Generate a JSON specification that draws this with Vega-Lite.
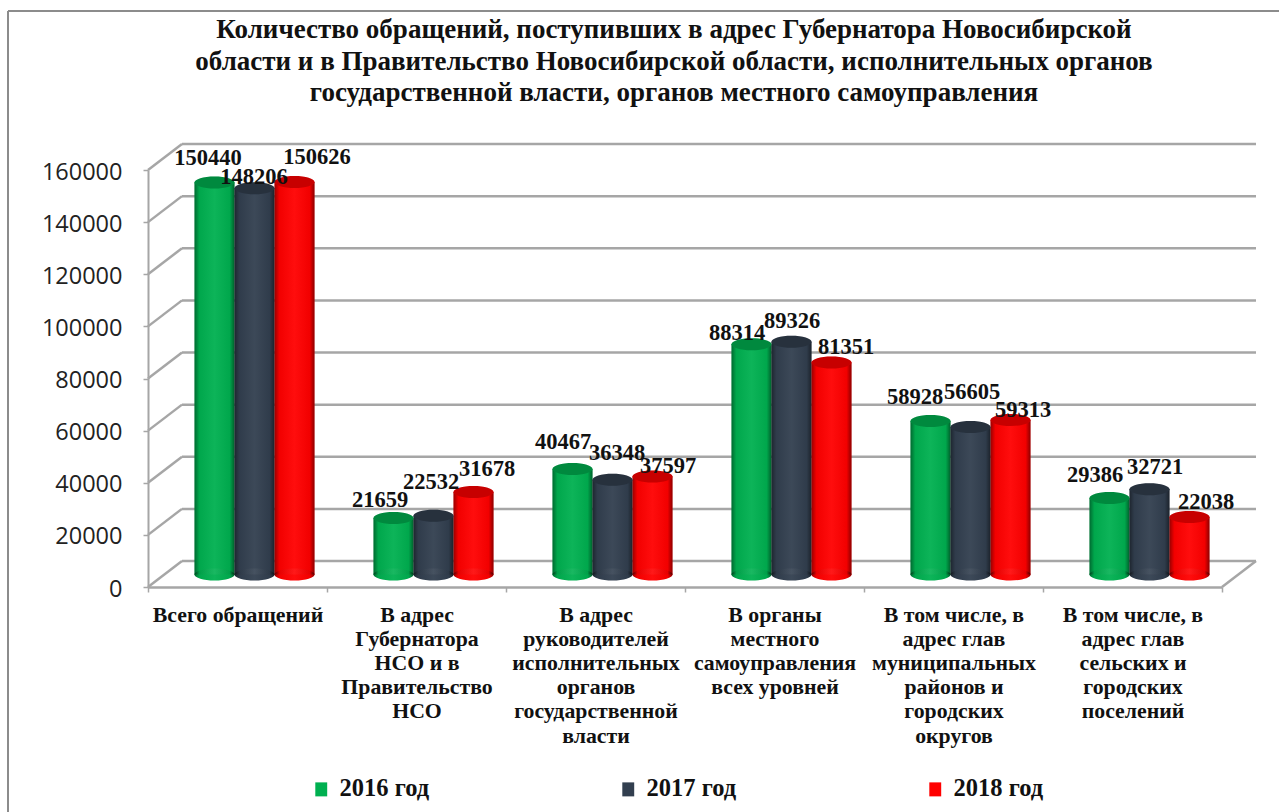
{"$schema":"https://vega.github.io/schema/vega-lite/v6.json","width":1074,"height":417,"autosize":{"type":"none"},"padding":{"left":148,"top":170,"right":57,"bottom":225},"background":"#ffffff","config":{"view":{"stroke":null}},
"title":{"text":["Количество обращений, поступивших в  адрес Губернатора Новосибирской","области и в Правительство  Новосибирской области,  исполнительных органов","государственной власти, органов местного самоуправления"],"font":"Liberation Serif","fontWeight":"bold","fontSize":27,"lineHeight":31.5,"color":"#111111","anchor":"middle","frame":"group","dx":-11,"offset":-118,"baseline":"alphabetic"},
"data":{"values":[
{"cat":"Всего обращений","year":"2016 год","v":150440},{"cat":"Всего обращений","year":"2017 год","v":148206},{"cat":"Всего обращений","year":"2018 год","v":150626},
{"cat":"В адрес|Губернатора|НСО и в|Правительство|НСО","year":"2016 год","v":21659},{"cat":"В адрес|Губернатора|НСО и в|Правительство|НСО","year":"2017 год","v":22532},{"cat":"В адрес|Губернатора|НСО и в|Правительство|НСО","year":"2018 год","v":31678},
{"cat":"В адрес|руководителей|исполнительных|органов|государственной|власти","year":"2016 год","v":40467},{"cat":"В адрес|руководителей|исполнительных|органов|государственной|власти","year":"2017 год","v":36348},{"cat":"В адрес|руководителей|исполнительных|органов|государственной|власти","year":"2018 год","v":37597},
{"cat":"В органы|местного|самоуправления|всех уровней","year":"2016 год","v":88314},{"cat":"В органы|местного|самоуправления|всех уровней","year":"2017 год","v":89326},{"cat":"В органы|местного|самоуправления|всех уровней","year":"2018 год","v":81351},
{"cat":"В том числе, в|адрес глав|муниципальных|районов и|городских|округов","year":"2016 год","v":58928},{"cat":"В том числе, в|адрес глав|муниципальных|районов и|городских|округов","year":"2017 год","v":56605},{"cat":"В том числе, в|адрес глав|муниципальных|районов и|городских|округов","year":"2018 год","v":59313},
{"cat":"В том числе, в|адрес глав|сельских и|городских|поселений","year":"2016 год","v":29386},{"cat":"В том числе, в|адрес глав|сельских и|городских|поселений","year":"2017 год","v":32721},{"cat":"В том числе, в|адрес глав|сельских и|городских|поселений","year":"2018 год","v":22038}
]},
"layer":[
{"data":{"values":[{"tick":0},{"tick":20000},{"tick":40000},{"tick":60000},{"tick":80000},{"tick":100000},{"tick":120000},{"tick":140000},{"tick":160000}]},"mark":{"type":"rule","color":"#a6a6a6","strokeWidth":2.5,"xOffset":-55.5,"x2Offset":123.5,"yOffset":-26},"encoding":{"x":{"datum":"Всего обращений","type":"nominal","title":null,"sort":null,"scale":{"domain":["Всего обращений","В адрес|Губернатора|НСО и в|Правительство|НСО","В адрес|руководителей|исполнительных|органов|государственной|власти","В органы|местного|самоуправления|всех уровней","В том числе, в|адрес глав|муниципальных|районов и|городских|округов","В том числе, в|адрес глав|сельских и|городских|поселений"],"paddingInner":0,"paddingOuter":0},"axis":{"title":null,"labelExpr":"split(datum.label,'|')","labelAngle":0,"labelAlign":"center","labelFont":"Liberation Serif","labelFontWeight":"bold","labelFontSize":21.8,"labelColor":"#111111","labelLineHeight":24.2,"labelBaseline":"top","labelPadding":12,"labelLimit":0,"tickBand":"extent","tickColor":"#a6a6a6","tickSize":5,"tickWidth":1.5,"domainColor":"#a6a6a6","domainWidth":2.5,"grid":false}},"x2":{"datum":"В том числе, в|адрес глав|сельских и|городских|поселений"},"y":{"field":"tick","type":"quantitative","title":null,"scale":{"domain":[0,160000],"nice":false},"axis":{"title":null,"values":[0,20000,40000,60000,80000,100000,120000,140000,160000],"format":"d","labelFont":"Open Sans","labelFontSize":23.5,"labelColor":"#222222","labelPadding":21,"labelOffset":2,"tickColor":"#a6a6a6","tickSize":5,"tickWidth":1.5,"domainColor":"#a6a6a6","domainWidth":2,"grid":false}}}},
{"data":{"values":[{"tick":0},{"tick":20000},{"tick":40000},{"tick":60000},{"tick":80000},{"tick":100000},{"tick":120000},{"tick":140000},{"tick":160000}]},"mark":{"type":"rule","color":"#a6a6a6","strokeWidth":2.5,"xOffset":-89.5,"x2Offset":-55.5,"y2Offset":-26},"encoding":{"x":{"datum":"Всего обращений"},"x2":{"datum":"Всего обращений"},"y":{"field":"tick","type":"quantitative"},"y2":{"field":"tick"}}},
{"data":{"values":[{"tick":0}]},"mark":{"type":"rule","color":"#a6a6a6","strokeWidth":2.5,"xOffset":89.5,"x2Offset":123.5,"y2Offset":-26},"encoding":{"x":{"datum":"В том числе, в|адрес глав|сельских и|городских|поселений"},"x2":{"datum":"В том числе, в|адрес глав|сельских и|городских|поселений"},"y":{"field":"tick","type":"quantitative"},"y2":{"field":"tick"}}},
{"data":{"values":[{"edge":160000}]},"mark":{"type":"rule","color":"#8c8c8c","strokeWidth":2,"xOffset":-229.5,"x2Offset":147,"yOffset":-159},"encoding":{"x":{"datum":"Всего обращений"},"x2":{"datum":"В том числе, в|адрес глав|сельских и|городских|поселений"},"y":{"field":"edge","type":"quantitative"}}},
{"data":{"values":[{"edge":"Всего обращений"}]},"mark":{"type":"rule","color":"#8c8c8c","strokeWidth":2,"xOffset":-229.5,"yOffset":-159,"y2Offset":225},"encoding":{"x":{"field":"edge","type":"nominal"},"y":{"datum":160000},"y2":{"datum":0}}},
{"encoding":{
"x":{"field":"cat","type":"nominal"},
"xOffset":{"field":"year","type":"nominal","scale":{"range":[17,196],"paddingInner":0,"paddingOuter":0.7375}},
"y":{"field":"v","type":"quantitative"}
},
"layer":[
{"mark":{"type":"point","filled":true,"opacity":1,"size":1600,"shape":"M-1,0A1,0.3 0 1,1 1,0A1,0.3 0 1,1 -1,0Z","yOffset":-12.5},"encoding":{"y":{"datum":0},"color":{"field":"year","type":"nominal"}}},
{"mark":{"type":"bar","yOffset":-12.5,"y2Offset":-12.5},"encoding":{"y2":{"datum":0},"color":{"field":"year","type":"nominal","title":null,"scale":{"domain":["2016 год","2017 год","2018 год"],"range":["#00b050","#323f4f","#ff0000"]},"legend":{"orient":"none","legendX":161,"legendY":607,"direction":"horizontal","columns":3,"columnPadding":186,"symbolType":"M-0.85,-1H0.85V1H-0.85Z","symbolSize":196,"symbolStrokeWidth":0,"symbolOpacity":1,"labelFont":"Liberation Serif","labelFontWeight":"bold","labelFontSize":24.5,"labelColor":"#111111","labelOffset":6,"labelLimit":0}}}},
{"mark":{"type":"point","filled":true,"opacity":1,"size":1600,"shape":"M-1,0A1,0.3 0 1,1 1,0A1,0.3 0 1,1 -1,0Z","yOffset":-12.5,"color":{"gradient":"linear","x1":0,"x2":1,"y1":0,"y2":0,"stops":[{"offset":0,"color":"rgba(0,0,0,0.4)"},{"offset":0.12,"color":"rgba(0,0,0,0.05)"},{"offset":0.5,"color":"rgba(255,255,255,0.05)"},{"offset":0.88,"color":"rgba(0,0,0,0.05)"},{"offset":1,"color":"rgba(0,0,0,0.45)"}]}},"encoding":{"y":{"datum":0}}},
{"mark":{"type":"bar","yOffset":-12.5,"y2Offset":-12.5,"color":{"gradient":"linear","x1":0,"x2":1,"y1":0,"y2":0,"stops":[{"offset":0,"color":"rgba(0,0,0,0.4)"},{"offset":0.12,"color":"rgba(0,0,0,0.05)"},{"offset":0.5,"color":"rgba(255,255,255,0.05)"},{"offset":0.88,"color":"rgba(0,0,0,0.05)"},{"offset":1,"color":"rgba(0,0,0,0.45)"}]}},"encoding":{"y2":{"datum":0}}},
{"mark":{"type":"point","filled":true,"opacity":1,"size":1600,"shape":"M-1,0A1,0.3 0 1,1 1,0A1,0.3 0 1,1 -1,0Z","yOffset":-12.5},"encoding":{"color":{"field":"year","type":"nominal"}}},
{"mark":{"type":"point","filled":true,"opacity":0.22,"color":"#000000","size":1600,"shape":"M-1,0A1,0.3 0 1,1 1,0A1,0.3 0 1,1 -1,0Z","yOffset":-12.5}},
{"transform":[{"filter":"datum.v==150440"}],"mark":{"type":"text","dx":-6.5,"dy":-37,"font":"Liberation Serif","fontWeight":"bold","fontSize":22.5,"color":"#111111"},"encoding":{"text":{"field":"v","format":"d"}}},
{"transform":[{"filter":"datum.v==148206"}],"mark":{"type":"text","dx":-0.5,"dy":-24,"font":"Liberation Serif","fontWeight":"bold","fontSize":22.5,"color":"#111111"},"encoding":{"text":{"field":"v","format":"d"}}},
{"transform":[{"filter":"datum.v==150626"}],"mark":{"type":"text","dx":22.5,"dy":-37,"font":"Liberation Serif","fontWeight":"bold","fontSize":22.5,"color":"#111111"},"encoding":{"text":{"field":"v","format":"d"}}},
{"transform":[{"filter":"datum.v==21659"}],"mark":{"type":"text","dx":-13.5,"dy":-31,"font":"Liberation Serif","fontWeight":"bold","fontSize":22.5,"color":"#111111"},"encoding":{"text":{"field":"v","format":"d"}}},
{"transform":[{"filter":"datum.v==22532"}],"mark":{"type":"text","dx":-2.5,"dy":-46,"font":"Liberation Serif","fontWeight":"bold","fontSize":22.5,"color":"#111111"},"encoding":{"text":{"field":"v","format":"d"}}},
{"transform":[{"filter":"datum.v==31678"}],"mark":{"type":"text","dx":13.5,"dy":-35,"font":"Liberation Serif","fontWeight":"bold","fontSize":22.5,"color":"#111111"},"encoding":{"text":{"field":"v","format":"d"}}},
{"transform":[{"filter":"datum.v==40467"}],"mark":{"type":"text","dx":-9.5,"dy":-40,"font":"Liberation Serif","fontWeight":"bold","fontSize":22.5,"color":"#111111"},"encoding":{"text":{"field":"v","format":"d"}}},
{"transform":[{"filter":"datum.v==36348"}],"mark":{"type":"text","dx":4.5,"dy":-39,"font":"Liberation Serif","fontWeight":"bold","fontSize":22.5,"color":"#111111"},"encoding":{"text":{"field":"v","format":"d"}}},
{"transform":[{"filter":"datum.v==37597"}],"mark":{"type":"text","dx":15.5,"dy":-23,"font":"Liberation Serif","fontWeight":"bold","fontSize":22.5,"color":"#111111"},"encoding":{"text":{"field":"v","format":"d"}}},
{"transform":[{"filter":"datum.v==88314"}],"mark":{"type":"text","dx":-14.5,"dy":-24,"font":"Liberation Serif","fontWeight":"bold","fontSize":22.5,"color":"#111111"},"encoding":{"text":{"field":"v","format":"d"}}},
{"transform":[{"filter":"datum.v==89326"}],"mark":{"type":"text","dx":0.5,"dy":-33,"font":"Liberation Serif","fontWeight":"bold","fontSize":22.5,"color":"#111111"},"encoding":{"text":{"field":"v","format":"d"}}},
{"transform":[{"filter":"datum.v==81351"}],"mark":{"type":"text","dx":14.5,"dy":-28,"font":"Liberation Serif","fontWeight":"bold","fontSize":22.5,"color":"#111111"},"encoding":{"text":{"field":"v","format":"d"}}},
{"transform":[{"filter":"datum.v==58928"}],"mark":{"type":"text","dx":-15.5,"dy":-36,"font":"Liberation Serif","fontWeight":"bold","fontSize":22.5,"color":"#111111"},"encoding":{"text":{"field":"v","format":"d"}}},
{"transform":[{"filter":"datum.v==56605"}],"mark":{"type":"text","dx":1.5,"dy":-47,"font":"Liberation Serif","fontWeight":"bold","fontSize":22.5,"color":"#111111"},"encoding":{"text":{"field":"v","format":"d"}}},
{"transform":[{"filter":"datum.v==59313"}],"mark":{"type":"text","dx":12.5,"dy":-22,"font":"Liberation Serif","fontWeight":"bold","fontSize":22.5,"color":"#111111"},"encoding":{"text":{"field":"v","format":"d"}}},
{"transform":[{"filter":"datum.v==29386"}],"mark":{"type":"text","dx":-14.5,"dy":-35,"font":"Liberation Serif","fontWeight":"bold","fontSize":22.5,"color":"#111111"},"encoding":{"text":{"field":"v","format":"d"}}},
{"transform":[{"filter":"datum.v==32721"}],"mark":{"type":"text","dx":5.5,"dy":-35,"font":"Liberation Serif","fontWeight":"bold","fontSize":22.5,"color":"#111111"},"encoding":{"text":{"field":"v","format":"d"}}},
{"transform":[{"filter":"datum.v==22038"}],"mark":{"type":"text","dx":16.5,"dy":-28,"font":"Liberation Serif","fontWeight":"bold","fontSize":22.5,"color":"#111111"},"encoding":{"text":{"field":"v","format":"d"}}}
]}
]}
